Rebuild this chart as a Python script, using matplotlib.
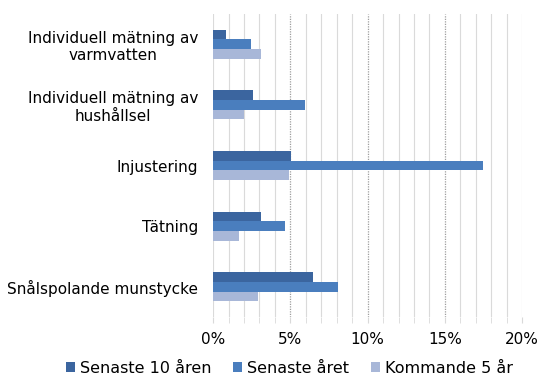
import matplotlib.pyplot as plt
import numpy as np
from matplotlib.ticker import FixedLocator, MultipleLocator, PercentFormatter

categories = ['Individuell mätning av\nvarmvatten',
              'Individuell mätning av\nhushållsel',
              'Injustering',
              'Tätning',
              'Snålspolande munstycke']
series = ['Senaste 10 åren', 'Senaste året', 'Kommande 5 år']
senaste_10 = [0.86, 2.56, 5.06, 3.08, 6.47]
senaste_aret = [2.45, 5.96, 17.44, 4.63, 8.11]
kommande_5 = [3.12, 2.02, 4.93, 1.66, 2.93]
colors = ['#3B659F', '#4A7EBE', '#A8B7D8']

plt.rcParams['font.family'] = 'DejaVu Sans'

fig = plt.figure(figsize=(5.41, 3.77), dpi=100)
ax = fig.add_axes([0.394, 0.159, 0.571, 0.804])

y = np.arange(len(categories))
h = 0.16
for i, (vals, name) in enumerate(zip([senaste_10, senaste_aret, kommande_5], series)):
    ax.barh(y + (i - 1) * h, vals, height=h, color=colors[i], label=name, zorder=3)

ax.set_xlim(0, 20)
ax.set_ylim(len(categories) - 0.5, -0.5)
ax.set_yticks(y)
ax.set_yticklabels(categories, fontsize=11, multialignment='center')
ax.tick_params(axis='y', length=0, pad=11)

ax.xaxis.set_major_locator(MultipleLocator(5))
ax.xaxis.set_minor_locator(MultipleLocator(1))
ax.xaxis.set_major_formatter(PercentFormatter(decimals=0))
ax.tick_params(axis='x', which='both', length=4, color='#D9D9D9', labelsize=11, pad=7)

# light lines every 1 %, dotted darker lines at 5/10/15 %
for v in range(0, 21):
    if v in (5, 10, 15):
        ax.axvline(v, color='#9E9E9E', linewidth=0.9, linestyle=(0, (1, 1)), zorder=1)
    else:
        ax.axvline(v, color='#DADADA', linewidth=0.8, zorder=0)
for s in ax.spines.values():
    s.set_visible(False)

fig.legend(loc='lower center', bbox_to_anchor=(0.535, -0.035), ncol=3, frameon=False,
           fontsize=11.5, handlelength=0.55, handleheight=0.55, handletextpad=0.3,
           columnspacing=1.4)

plt.savefig('out.png', dpi=100)
